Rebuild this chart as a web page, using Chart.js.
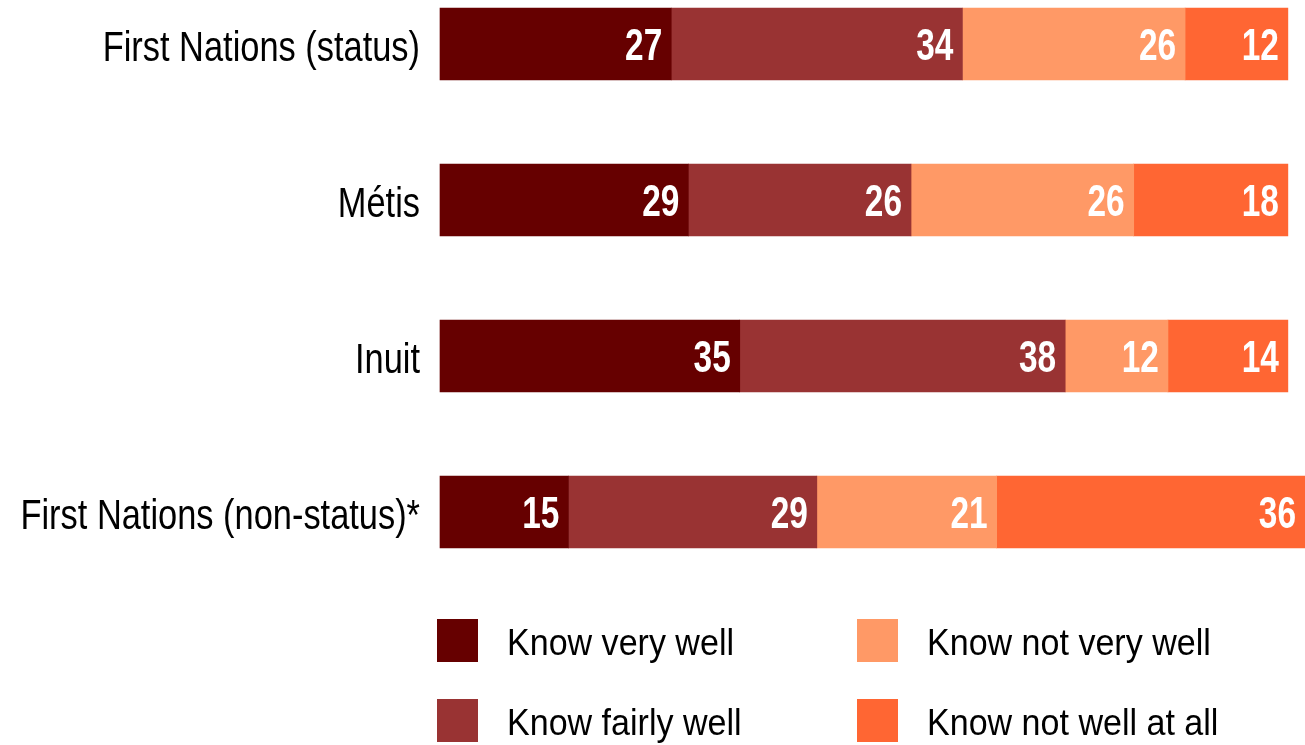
<!DOCTYPE html>
<html>
<head>
<meta charset="utf-8">
<script src="https://cdn.jsdelivr.net/npm/chart.js@4"></script>
<style>
  html, body { margin: 0; padding: 0; background: #fff; }
  #wrap { position: relative; width: 1305px; height: 745px; }
</style>
</head>
<body>
<div id="wrap"><canvas id="knowChart" width="1305" height="745"></canvas></div>
<script>
const groups = ['First Nations (status)', 'Métis', 'Inuit', 'First Nations (non-status)*'];
const seriesNames = ['Know very well', 'Know fairly well', 'Know not very well', 'Know not well at all'];
const knowVeryWell = [27, 29, 35, 15];
const knowFairlyWell = [34, 26, 38, 29];
const knowNotVeryWell = [26, 26, 12, 21];
const knowNotWellAtAll = [12, 18, 14, 36];
const colours = ['#660000', '#993333', '#FF9966', '#FF6633'];

const sans = '"Liberation Sans", Arimo, Arial, sans-serif';

// draw text squeezed horizontally, like a narrow face
function narrowText(ctx, text, x, y, sx, align) {
  ctx.save();
  ctx.translate(x, y);
  ctx.scale(sx, 1);
  ctx.textAlign = align;
  ctx.textBaseline = 'alphabetic';
  ctx.fillText(text, 0, 0);
  ctx.restore();
}

const datasets = [knowVeryWell, knowFairlyWell, knowNotVeryWell, knowNotWellAtAll].map((values, i) => ({
  label: seriesNames[i],
  data: values,
  backgroundColor: colours[i],
  borderWidth: 0,
  barThickness: 72,
  clip: false,
}));

// category names, placed from the y scale's tick pixels
const groupLabels = {
  id: 'groupLabels',
  afterDraw(chart) {
    const ctx = chart.ctx;
    const scale = chart.scales.y;
    ctx.save();
    ctx.fillStyle = '#000';
    ctx.font = '43px ' + sans;
    scale.ticks.forEach((tick, i) => {
      const y = scale.getPixelForTick(i);
      narrowText(ctx, scale.getLabelForValue(tick.value), scale.right - 20, y + 17, 0.8, 'right');
    });
    ctx.restore();
  }
};

// white numbers at the right end of each segment
const valueLabels = {
  id: 'valueLabels',
  afterDatasetsDraw(chart) {
    const ctx = chart.ctx;
    ctx.save();
    ctx.fillStyle = '#fff';
    ctx.font = 'bold 44px ' + sans;
    chart.data.datasets.forEach((ds, i) => {
      chart.getDatasetMeta(i).data.forEach((bar, j) => {
        narrowText(ctx, String(ds.data[j]), bar.x - 9, bar.y + 16, 0.76, 'right');
      });
    });
    ctx.restore();
  }
};

// two-column legend under the bars
const gridLegend = {
  id: 'gridLegend',
  afterDraw(chart) {
    const ctx = chart.ctx;
    const cols = [437, 857];
    const rows = [619, 699];
    const order = [0, 2, 1, 3];
    ctx.save();
    ctx.font = '37px ' + sans;
    order.forEach((dsIndex, k) => {
      const ds = chart.data.datasets[dsIndex];
      const x = cols[k % 2];
      const y = rows[Math.floor(k / 2)];
      ctx.fillStyle = ds.backgroundColor;
      ctx.fillRect(x, y, 41, 43);
      ctx.fillStyle = '#000';
      narrowText(ctx, ds.label, x + 70, y + 36, 0.92, 'left');
    });
    ctx.restore();
  }
};

new Chart(document.getElementById('knowChart'), {
  type: 'bar',
  data: { labels: groups, datasets: datasets },
  options: {
    indexAxis: 'y',
    responsive: false,
    animation: false,
    layout: { padding: { top: 44, bottom: 233, left: 0, right: 0 } },
    plugins: {
      legend: { display: false },
      tooltip: { enabled: false },
    },
    scales: {
      x: {
        stacked: true,
        display: false,
        min: 0,
        max: 101,
      },
      y: {
        stacked: true,
        offset: false,
        grid: { display: false },
        border: { display: false },
        afterFit(scale) { scale.width = 440; },
        ticks: { display: false },
      },
    },
  },
  plugins: [valueLabels, groupLabels, gridLegend],
});
</script>
</body>
</html>
